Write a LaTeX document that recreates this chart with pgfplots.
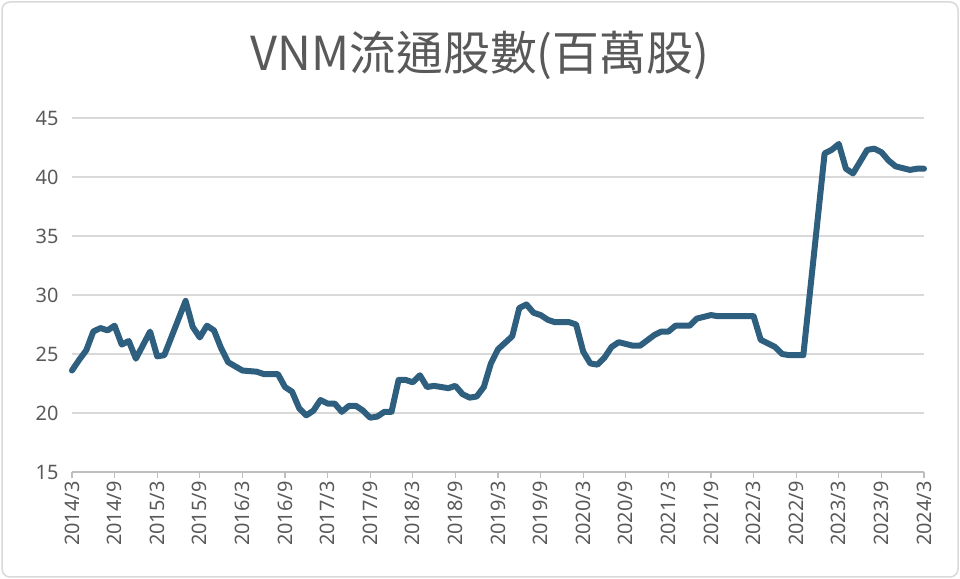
\documentclass[border=0pt]{standalone}
\usepackage{fontspec}
\setmainfont{Noto Sans}
\newfontfamily\cjk{Noto Sans CJK TC}
\usepackage{pgfplots}
\pgfplotsset{compat=1.18}
\definecolor{linec}{HTML}{2E5F7F}
\definecolor{txtc}{HTML}{595959}
\definecolor{gridc}{HTML}{D9D9D9}
\definecolor{axc}{HTML}{BFBFBF}
\begin{document}
\begin{tikzpicture}[x=1bp,y=1bp]
\useasboundingbox (0,0) rectangle (960,579);
\draw[line width=1.5bp, draw=gridc, rounded corners=8bp] (2,2) rectangle (958,577);
\node[text=txtc, font=\cjk\fontsize{47}{52}\selectfont, anchor=center] at (480,524) {VNM流通股數(百萬股)};
\begin{axis}[
  at={(72bp,107bp)}, anchor=south west,
  width=852bp, height=354bp, scale only axis=true,
  xmin=0, xmax=120, ymin=15, ymax=45,
  ytick={15,20,...,45},
  xtick={0,6,...,120},
  xticklabels={2014/3,2014/9,2015/3,2015/9,2016/3,2016/9,2017/3,2017/9,2018/3,2018/9,2019/3,2019/9,2020/3,2020/9,2021/3,2021/9,2022/3,2022/9,2023/3,2023/9,2024/3},
  x tick label style={rotate=90, anchor=east, font=\fontsize{20}{22}\selectfont, text=txtc},
  y tick label style={font=\fontsize{20}{22}\selectfont, text=txtc},
  /pgf/number format/assume math mode=true,
  axis x line*=bottom,
  axis y line*=left,
  y axis line style={draw=none},
  ymajorgrids=true,
  grid style={draw=gridc, line width=1.5bp},
  x axis line style={draw=axc, line width=1.5bp},
  xtick style={draw=axc, line width=1.2bp},
  tick align=outside,
  major tick length=6bp,
  ytick style={draw=none},
  yticklabel style={xshift=-4bp},
  clip=false,
]
\addplot[line width=6bp, color=linec, line join=round, line cap=round] coordinates {
(0,23.6)(1,24.5)(2,25.3)(3,26.9)(4,27.2)(5,27.0)(6,27.4)(7,25.8)(8,26.1)(9,24.6)
(11,26.9)(12,24.8)(13,24.9)(16,29.5)(17,27.3)(18,26.4)(19,27.4)(20,27.0)(21,25.5)(22,24.3)
(24,23.6)(26,23.5)(27,23.3)(29,23.3)(30,22.2)(31,21.8)(32,20.4)(33,19.8)(34,20.2)(35,21.1)
(36,20.8)(37,20.8)(38,20.1)(39,20.6)(40,20.6)(41,20.2)(42,19.6)(43,19.7)(44,20.1)(45,20.1)
(46,22.8)(47,22.8)(48,22.6)(49,23.2)(50,22.2)(51,22.3)(53,22.1)(54,22.3)(55,21.6)(56,21.3)
(57,21.4)(58,22.2)(59,24.2)(60,25.4)(62,26.5)(63,28.9)(64,29.2)(65,28.5)(66,28.3)(67,27.9)
(68,27.7)(70,27.7)(71,27.5)(72,25.2)(73,24.2)(74,24.1)(75,24.7)(76,25.6)(77,26.0)(79,25.7)
(80,25.7)(82,26.6)(83,26.9)(84,26.9)(85,27.4)(87,27.4)(88,28.0)(90,28.3)(91,28.2)(96,28.2)
(97,26.2)(98,25.9)(99,25.6)(100,25.0)(101,24.9)(103,24.9)(106,42.0)(107,42.3)(108,42.8)(109,40.7)
(110,40.3)(111,41.3)(112,42.3)(113,42.4)(114,42.1)(115,41.4)(116,40.9)(118,40.6)(119,40.7)(120,40.7)
};
\end{axis}
\end{tikzpicture}
\end{document}
